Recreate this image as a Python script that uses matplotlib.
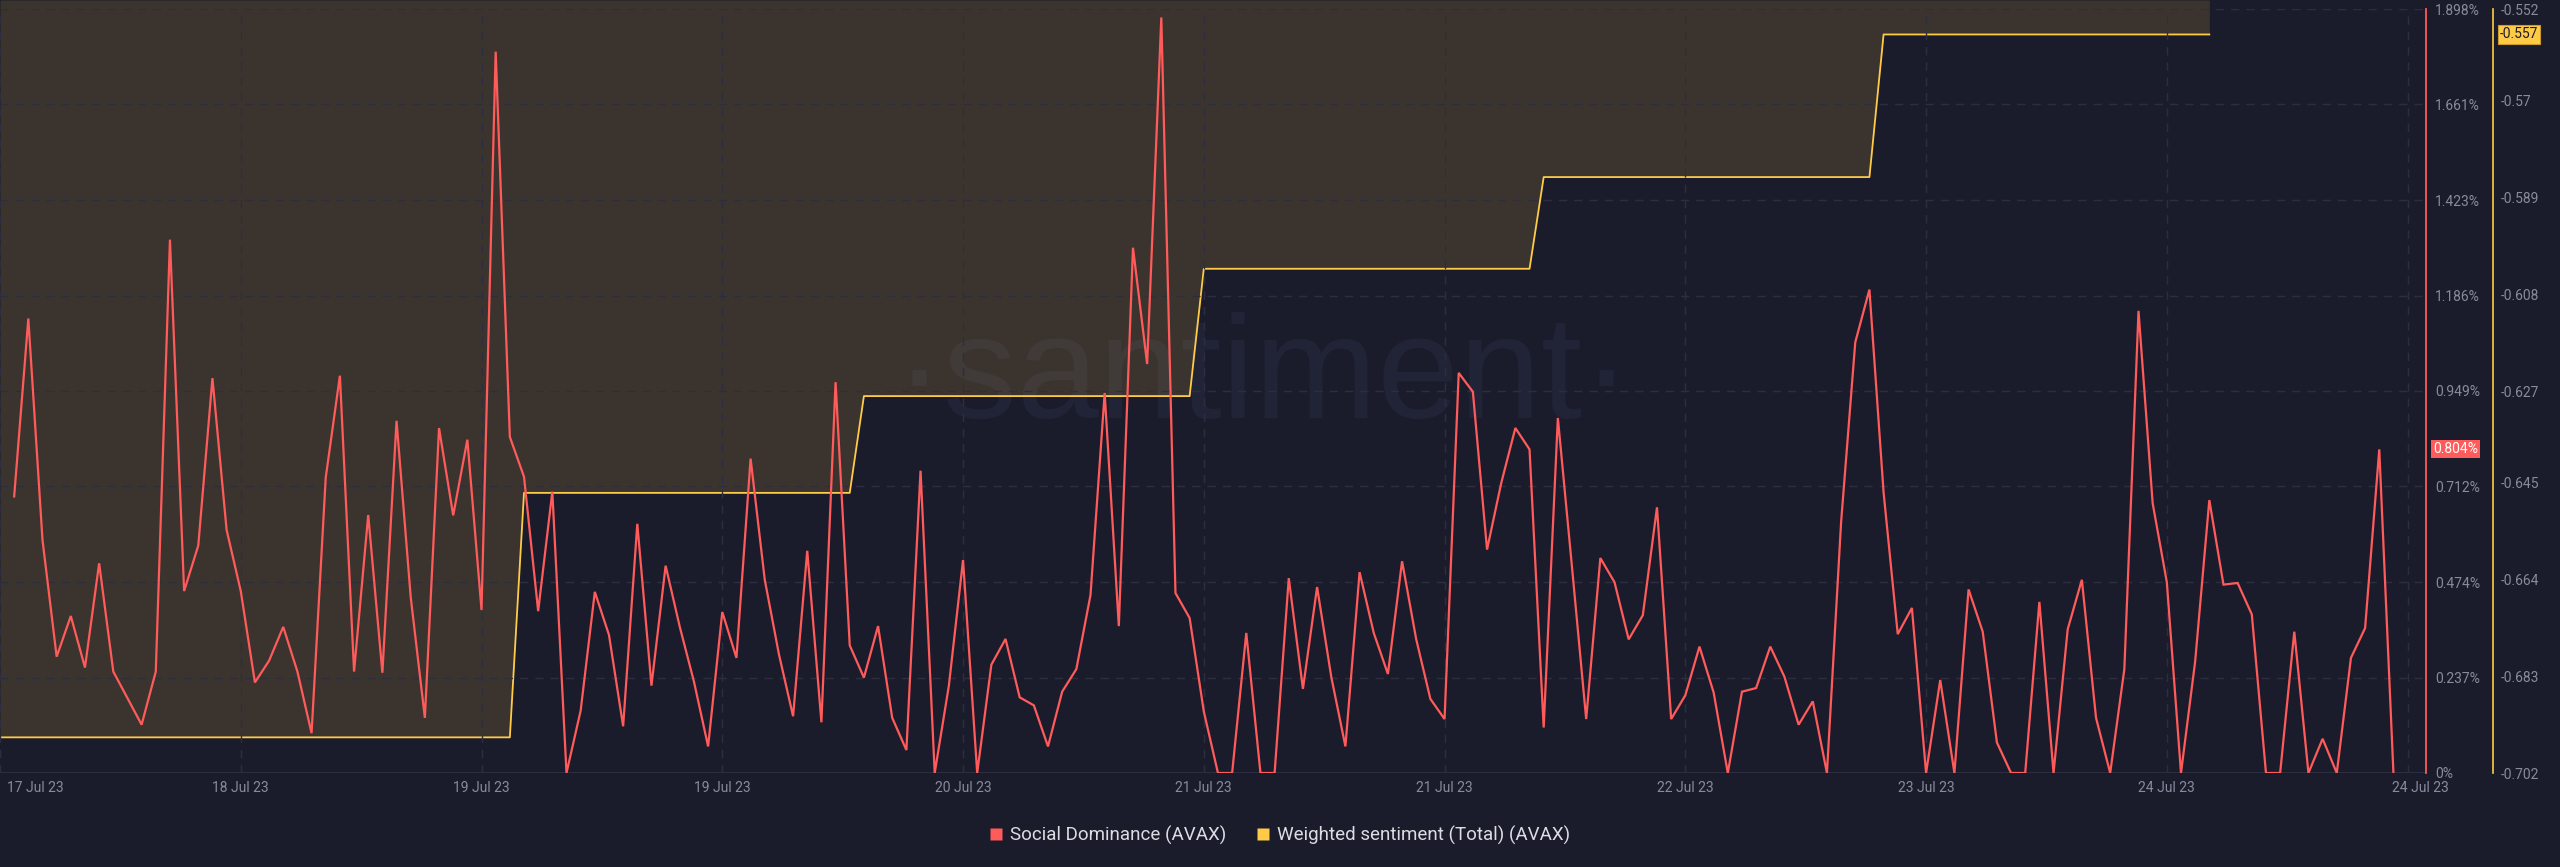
import matplotlib
matplotlib.use('Agg')
import matplotlib.pyplot as plt
import matplotlib.dates as mdates
import matplotlib.transforms as mtransforms
from matplotlib.lines import Line2D
import pandas as pd

plt.rcParams['font.family'] = ['Roboto', 'DejaVu Sans']

BG = '#1b1c2b'
RED = '#ff5b5b'
YELLOW = '#ffcb47'
GRID = '#2c2e40'
TICK = '#868b9e'

axis_start = pd.Timestamp('2023-07-17 16:00')
axis_end = axis_start + pd.Timedelta(hours=171.3)

# Social Dominance (AVAX), hourly, in %
dominance_start = '2023-07-17 17:00'
dominance = [
    0.687, 1.129, 0.579, 0.289, 0.390, 0.262, 0.521, 0.252, 0.186, 0.120,
    0.252, 1.325, 0.452, 0.565, 0.981, 0.604, 0.452, 0.225, 0.279, 0.363,
    0.252, 0.099, 0.734, 0.987, 0.252, 0.641, 0.249, 0.875, 0.437, 0.137,
    0.857, 0.640, 0.828, 0.405, 1.792, 0.835, 0.736, 0.402, 0.699, 0.0,
    0.155, 0.450, 0.343, 0.116, 0.619, 0.217, 0.515, 0.363, 0.227, 0.066,
    0.400, 0.286, 0.781, 0.480, 0.295, 0.141, 0.552, 0.126, 0.971, 0.317,
    0.237, 0.365, 0.137, 0.057, 0.751, 0.0, 0.217, 0.529, 0.0, 0.269,
    0.333, 0.188, 0.168, 0.066, 0.202, 0.258, 0.442, 0.944, 0.365, 1.305,
    1.016, 1.877, 0.447, 0.385, 0.153, 0.0, 0.0, 0.348, 0.0, 0.0,
    0.484, 0.209, 0.462, 0.239, 0.066, 0.499, 0.348, 0.246, 0.526, 0.332,
    0.184, 0.134, 0.994, 0.947, 0.555, 0.720, 0.857, 0.804, 0.113, 0.882,
    0.511, 0.134, 0.534, 0.474, 0.332, 0.392, 0.660, 0.134, 0.193, 0.314,
    0.200, 0.0, 0.202, 0.211, 0.314, 0.239, 0.120, 0.178, 0.0, 0.623,
    1.070, 1.201, 0.697, 0.345, 0.410, 0.0, 0.231, 0.0, 0.456, 0.351,
    0.076, 0.0, 0.0, 0.425, 0.0, 0.357, 0.480, 0.137, 0.0, 0.258,
    1.148, 0.670, 0.474, 0.0, 0.277, 0.678, 0.468, 0.472, 0.394, 0.0,
    0.0, 0.351, 0.0, 0.085, 0.0, 0.286, 0.360, 0.804, 0.0,
]
dominance_last = 0.804

# Weighted sentiment (Total) (AVAX), corner points of the line
sentiment_times = ['2023-07-17 16:00', '2023-07-19 04:00', '2023-07-19 05:00',
                   '2023-07-20 04:00', '2023-07-20 05:00', '2023-07-21 04:00',
                   '2023-07-21 05:00', '2023-07-22 04:00', '2023-07-22 05:00',
                   '2023-07-23 04:00', '2023-07-23 05:00', '2023-07-24 04:00']
sentiment_values = [-0.695, -0.695, -0.647, -0.647, -0.628, -0.628,
                    -0.603, -0.603, -0.585, -0.585, -0.557, -0.557]
sentiment_last = -0.557

dominance_ticks = [0, 0.237, 0.474, 0.712, 0.949, 1.186, 1.423, 1.661, 1.898]
dominance_labels = ['0%', '0.237%', '0.474%', '0.712%', '0.949%',
                    '1.186%', '1.423%', '1.661%', '1.898%']
sentiment_ticks = [-0.702, -0.683, -0.664, -0.645, -0.627,
                   -0.608, -0.589, -0.57, -0.552]
sentiment_labels = ['-0.702', '-0.683', '-0.664', '-0.645', '-0.627',
                    '-0.608', '-0.589', '-0.57', '-0.552']

dom_x = pd.date_range(dominance_start, periods=len(dominance), freq='h')
sent_x = pd.to_datetime(sentiment_times)
x_ticks = pd.date_range(axis_start, periods=11, freq='17h')

W, H = 2560, 867
fig = plt.figure(figsize=(W / 100, H / 100), dpi=100, facecolor=BG)
ax = fig.add_axes([0, 1 - 773 / H, 2426 / W, (773 - 9) / H])
ax2 = ax.twinx()

# sentiment axis underneath
ax2.patch.set_visible(False)
ax2.set_ylim(sentiment_ticks[0], sentiment_ticks[-1])
# fill above the line reaches the top edge of the picture
top_edge = ax2.transData.inverted().transform(fig.transFigure.transform((0, 1)))[1]
ax2.fill_between(sent_x, sentiment_values, top_edge, color=YELLOW,
                 alpha=0.14, lw=0, zorder=1, clip_on=False)
ax2.plot(sent_x, sentiment_values, color=YELLOW, lw=1.3, zorder=2)
ax2.set_ylim(sentiment_ticks[0], sentiment_ticks[-1])
ax2.set_yticks(sentiment_ticks)
ax2.set_yticklabels(sentiment_labels)
ax2.tick_params(axis='y', length=0, pad=5.8, colors=TICK, labelsize=10)
for s in ['top', 'bottom', 'left']:
    ax2.spines[s].set_visible(False)
ax2.spines['right'].set_position(('axes', 2493 / 2426))
ax2.spines['right'].set_color(YELLOW)
ax2.spines['right'].set_linewidth(1.2)

ax2.text(0.4934, 0.562, '\u00b7santiment\u00b7', transform=fig.transFigure,
         ha='center', va='center', fontsize=106, color='#6f86c8', alpha=0.08,
         family=['Liberation Sans Narrow', 'Liberation Sans', 'DejaVu Sans'],
         zorder=0)

# dominance axis on top
ax.set_zorder(ax2.get_zorder() + 1)
ax.patch.set_visible(False)
ax.plot(dom_x, dominance, color=RED, lw=1.6, solid_joinstyle='miter', zorder=3)
ax.axhline(0, color=GRID, lw=1.5, zorder=1)
ax.set_ylim(0, dominance_ticks[-1])
ax.set_yticks(dominance_ticks)
ax.set_yticklabels(dominance_labels)
ax.yaxis.tick_right()
ax.tick_params(axis='y', length=0, pad=6.5, colors=TICK, labelsize=10)
ax.set_xlim(axis_start, axis_end)
ax.set_xticks(x_ticks)
ax.xaxis.set_major_formatter(mdates.DateFormatter('%d %b %y'))
ax.tick_params(axis='x', length=0, pad=5.8, colors=TICK, labelsize=10)
ax.grid(True, color=GRID, linestyle=(0, (6, 5)), linewidth=1, zorder=0)
for s in ['top', 'bottom', 'left']:
    ax.spines[s].set_visible(False)
ax.spines['right'].set_color(RED)
ax.spines['right'].set_linewidth(1.3)

fig.canvas.draw()
xlabels = ax.get_xticklabels()
xlabels[0].set_horizontalalignment('left')
xlabels[0].set_transform(xlabels[0].get_transform() +
                         mtransforms.ScaledTranslation(0.07, 0, fig.dpi_scale_trans))
xlabels[-1].set_transform(xlabels[-1].get_transform() +
                          mtransforms.ScaledTranslation(0.13, 0, fig.dpi_scale_trans))

# current value tags
blend = mtransforms.blended_transform_factory(ax.transAxes, ax.transData)
ax.text(1.003, dominance_last, f'{dominance_last:.3f}%', transform=blend,
        ha='left', va='center', color='white', fontsize=10, clip_on=False,
        bbox=dict(boxstyle='square,pad=0.15', fc=RED, ec='none'))
blend2 = mtransforms.blended_transform_factory(ax2.transAxes, ax2.transData)
ax2.text(1.0305, sentiment_last, f'{sentiment_last:.3f}', transform=blend2,
         ha='left', va='center', color=BG, fontsize=10, clip_on=False,
         bbox=dict(boxstyle='square,pad=0.15', fc=YELLOW, ec='#c99a2e', lw=0.8))

handles = [
    Line2D([], [], marker='s', color='none', markerfacecolor=RED,
           markeredgecolor='none', markersize=8.6),
    Line2D([], [], marker='s', color='none', markerfacecolor=YELLOW,
           markeredgecolor='none', markersize=8.6),
]
fig.legend(handles, ['Social Dominance (AVAX)', 'Weighted sentiment (Total) (AVAX)'],
           loc='center', bbox_to_anchor=(0.5, 0.037), ncol=2, frameon=False,
           fontsize=13.5, labelcolor='#dcdde3', handlelength=0.7,
           handletextpad=0.4, columnspacing=1.6)

fig.savefig('out.png', dpi=100, facecolor=BG)
